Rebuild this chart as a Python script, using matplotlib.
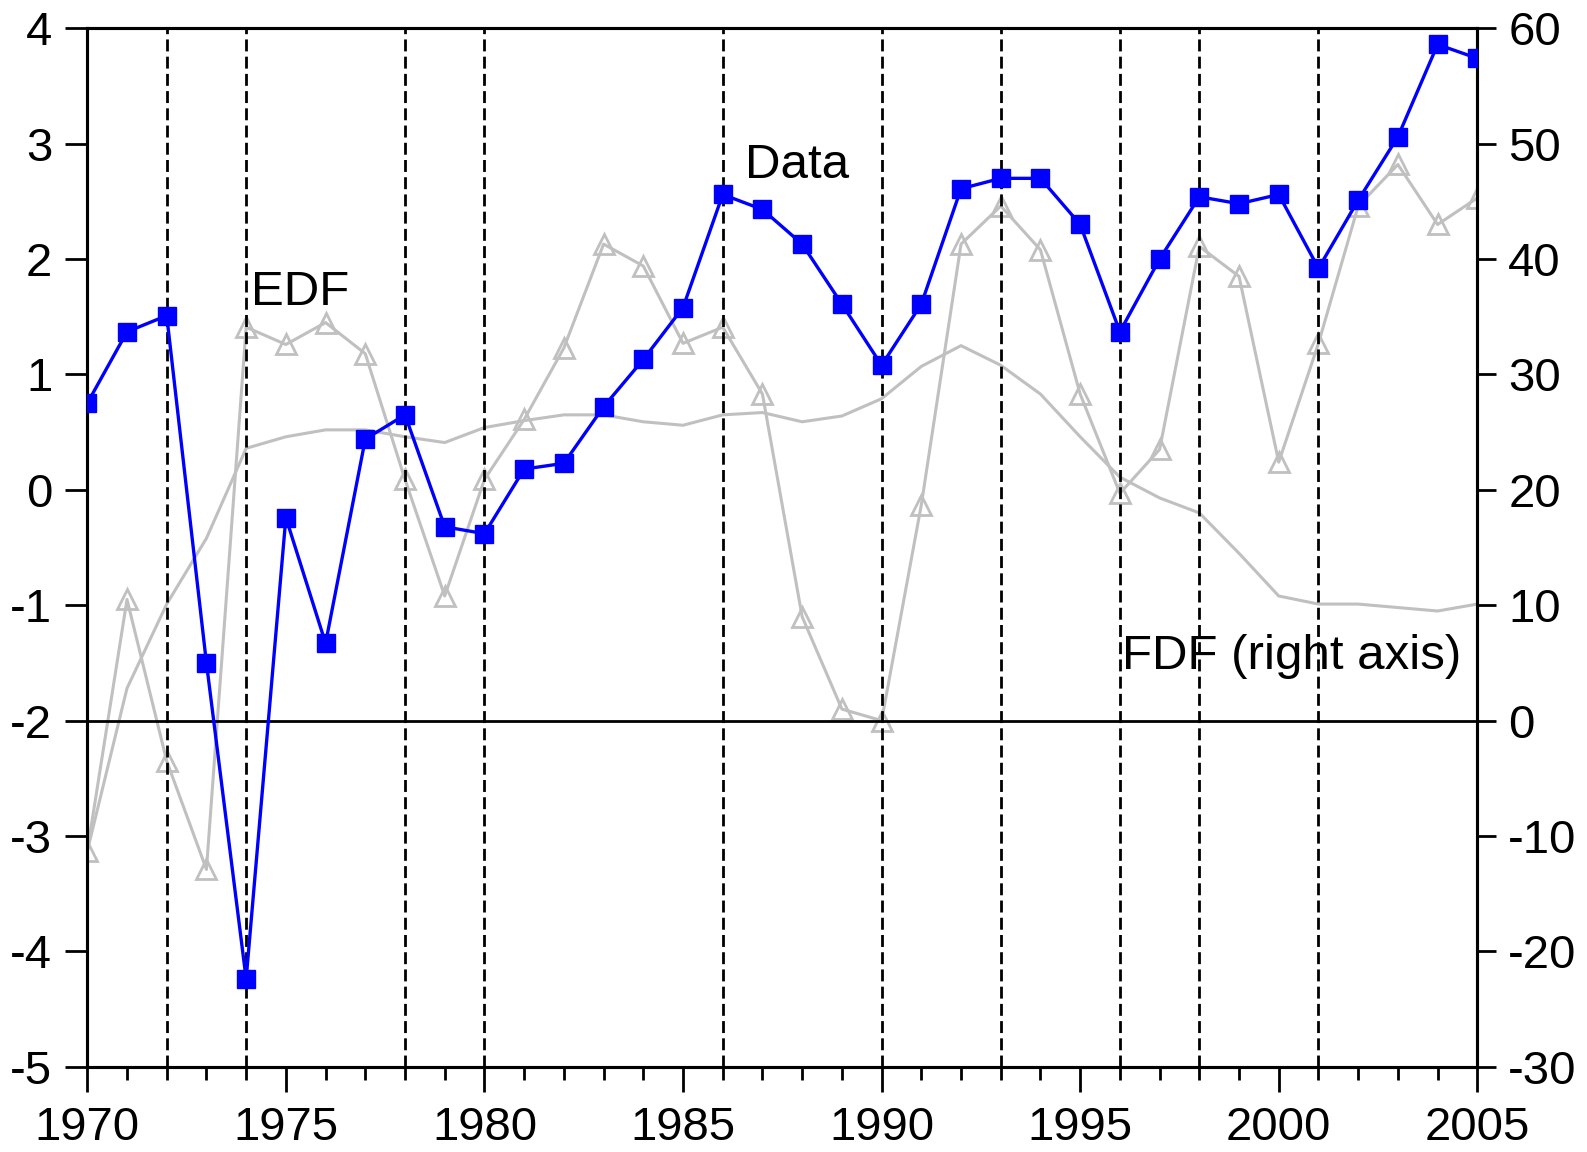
import numpy as np
import matplotlib
matplotlib.use("Agg")
import matplotlib.pyplot as plt
from matplotlib.ticker import MultipleLocator

plt.rcParams["font.family"] = ["Liberation Sans", "DejaVu Sans"]
plt.rcParams["axes.unicode_minus"] = False

years = np.arange(1970, 2006)

# observed series (left axis)
data = [0.75, 1.37, 1.51, -1.50, -4.24, -0.24, -1.33, 0.44, 0.65, -0.32,
        -0.38, 0.18, 0.23, 0.72, 1.13, 1.58, 2.56, 2.43, 2.13, 1.61,
        1.08, 1.61, 2.61, 2.70, 2.70, 2.30, 1.37, 2.00, 2.54, 2.48,
        2.56, 1.92, 2.51, 3.06, 3.86, 3.74]

# EDF with triangles, FDF smooth (right axis)
edf = [-11.3, 10.5, -3.5, -12.9, 34.1, 32.6, 34.5, 31.8, 20.9, 10.8,
       20.9, 26.1, 32.3, 41.3, 39.4, 32.7, 34.1, 28.3, 9.0, 1.0,
       0.0, 18.7, 41.3, 44.6, 40.8, 28.3, 19.7, 23.5, 41.1, 38.5,
       22.4, 32.7, 44.6, 48.2, 43.0, 45.3]
fdf = [-11.3, 2.8, 10.1, 15.8, 23.6, 24.6, 25.2, 25.2, 24.6, 24.1,
       25.4, 26.0, 26.5, 26.5, 25.9, 25.6, 26.5, 26.7, 25.9, 26.4,
       27.9, 30.7, 32.5, 30.8, 28.3, 24.6, 21.1, 19.3, 18.0, 14.5,
       10.8, 10.1, 10.1, 9.8, 9.5, 10.1]

breaks = [1972, 1974, 1978, 1980, 1986, 1990, 1993, 1996, 1998, 2001]

labels = [("EDF", 1974.12, 1.60), ("Data", 1986.55, 2.70),
          ("FDF (right axis)", 1996.05, -1.55)]

fig = plt.figure(figsize=(15.87, 11.52), dpi=100)
ax = fig.add_axes([0.0550, 0.0740, 0.8759, 0.9014])
ax2 = ax.twinx()
ax.set_zorder(ax2.get_zorder() + 1)
ax.patch.set_visible(False)

gray = "#c0c0c0"
ax2.plot(years, fdf, color=gray, lw=2.2, zorder=2)
ax2.plot(years, edf, color=gray, lw=2.2, marker="^", ms=14,
         mfc="none", mec=gray, mew=2.0, zorder=2)
ax2.axhline(0, color="black", lw=2.0, zorder=3)

for yr in breaks:
    ax.axvline(yr, color="black", lw=2.0, ls=(0, (4.3, 1.9)), zorder=2)

ax.plot(years, data, color="#0000ff", lw=2.4, marker="s", ms=13,
        mfc="#0000ff", mec="#0000ff", zorder=4)

for txt, x, y in labels:
    ax.text(x, y, txt, fontsize=35.5, va="baseline", ha="left", zorder=1)

ax.set_xlim(1970, 2005)
ax.set_ylim(-5, 4)
ax2.set_ylim(-30, 60)
ax.set_yticks(np.arange(-5, 5, 1))
ax2.set_yticks(np.arange(-30, 70, 10))
ax.xaxis.set_major_locator(MultipleLocator(5))
ax.xaxis.set_minor_locator(MultipleLocator(1))

ax.tick_params(axis="y", direction="out", length=15.8, width=2.0,
               labelsize=34, pad=9.5, right=False)
ax2.tick_params(axis="y", direction="out", length=14, width=2.0,
                labelsize=34, pad=8.3)
ax.tick_params(axis="x", which="major", direction="out", length=18,
               width=2.0, labelsize=34, pad=10.5, top=False)
ax.tick_params(axis="x", which="minor", direction="out", length=9.4,
               width=2.0, top=False)

for a in (ax, ax2):
    for s in a.spines.values():
        s.set_linewidth(2.2)

fig.savefig("out.png", dpi=100)
